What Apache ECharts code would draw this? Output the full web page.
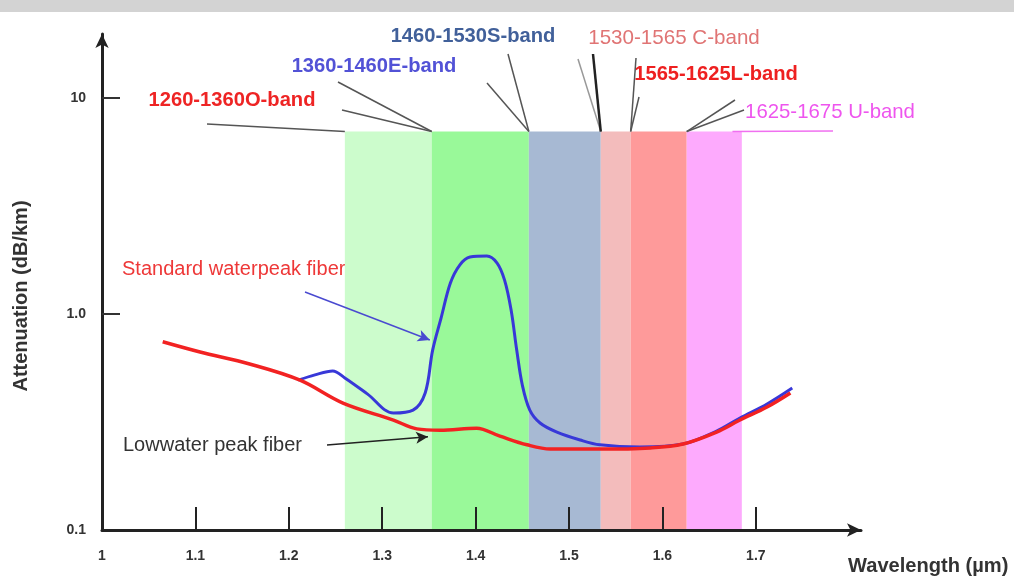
<!DOCTYPE html>
<html><head><meta charset="utf-8">
<script src="https://cdn.jsdelivr.net/npm/echarts@6/dist/echarts.min.js"></script>
<style>html,body{margin:0;padding:0;background:#fff}#c{width:1014px;height:579px}</style>
</head><body><div id="c"></div>
<script>
const xTicks = [1, 1.1, 1.2, 1.3, 1.4, 1.5, 1.6, 1.7];
const yTicks = [0.1, 1, 10];
const yTickLabels = ['0.1', '1.0', '10'];
const bandNames = ['1260-1360O-band', '1360-1460E-band', '1460-1530S-band', '1530-1565 C-band', '1565-1625L-band', '1625-1675 U-band'];
const bandStart = [1.26, 1.353, 1.457, 1.534, 1.566, 1.626];
const bandEnd = [1.353, 1.457, 1.534, 1.566, 1.626, 1.685];
const bandTop = 7.0;
const lowWL = [1.065, 1.105, 1.158, 1.212, 1.258, 1.312, 1.337, 1.362, 1.401, 1.426, 1.455, 1.480, 1.533, 1.587, 1.622, 1.658, 1.683, 1.712, 1.737];
const lowAtt = [0.744, 0.667, 0.587, 0.494, 0.387, 0.323, 0.294, 0.290, 0.296, 0.272, 0.248, 0.237, 0.237, 0.240, 0.250, 0.284, 0.323, 0.371, 0.431];
const stdWL = [1.210, 1.228, 1.247, 1.260, 1.284, 1.312, 1.333, 1.346, 1.354, 1.363, 1.373, 1.383, 1.394, 1.412, 1.423, 1.431, 1.438, 1.444, 1.450, 1.458, 1.469, 1.487, 1.512, 1.533, 1.576, 1.622, 1.658, 1.683, 1.712, 1.739];
const stdAtt = [0.494, 0.523, 0.545, 0.506, 0.427, 0.348, 0.359, 0.431, 0.681, 0.958, 1.392, 1.686, 1.836, 1.856, 1.722, 1.435, 1.043, 0.681, 0.469, 0.359, 0.313, 0.284, 0.261, 0.248, 0.242, 0.250, 0.287, 0.330, 0.383, 0.454];

const bandColors = ['#ccfccc', '#99f999', '#a7b9d3', '#f3bcbc', '#fe9a9a', '#fdaafd'];
const FONT = '"Liberation Sans","Arial",sans-serif';

const chart = echarts.init(document.getElementById('c'), null, {renderer: 'canvas'});

function zip(a, b) { return a.map((v, i) => [v, b[i]]); }

const leaderFrom = [
  [{x: 207, y: 124}, 0], [{x: 342, y: 110}, 1], [{x: 338, y: 82}, 1],
  [{x: 487, y: 83}, 2], [{x: 508, y: 54}, 2],
  [{x: 578, y: 59}, 3], [{x: 593, y: 54}, 3],
  [{x: 636, y: 58}, 4], [{x: 639, y: 97}, 4],
  [{x: 735, y: 100}, 5], [{x: 744, y: 110}, 5]
];
const leaderData = leaderFrom.map(([p, b], i) => [
  Object.assign({}, p, {lineStyle: {color: i === 6 ? '#222' : (i === 5 ? '#999' : '#555'), width: i === 6 ? 2.5 : 1.5, type: 'solid'}}),
  {coord: [bandStart[b], bandTop]}
]);
leaderData.push([{coord: [1.675, bandTop], lineStyle: {color: '#f070f0', width: 1.5, type: 'solid'}}, {x: 833, y: 131}]);

function label(text, x, y, color, weight, size, sx, align) {
  return {type: 'text', x: x, y: y, scaleX: sx, silent: true,
    style: {text: text, fill: color, font: weight + ' ' + size + 'px ' + FONT, textAlign: align || 'center', textVerticalAlign: 'middle'}};
}

const option = {
  animation: false,
  grid: {left: 102, top: 34, right: 153, bottom: 49},
  xAxis: {
    type: 'value', min: 1, max: 1.8126, z: 5,
    axisLine: {show: true, lineStyle: {color: '#222', width: 3}, symbol: ['none', 'arrow'], symbolSize: [10, 14]},
    axisTick: {show: true, inside: true, length: 23, lineStyle: {color: '#222', width: 2}, customValues: xTicks.slice(1)},
    axisLabel: {customValues: xTicks, formatter: v => String(Math.round(v * 10) / 10), margin: 19, color: '#333', fontFamily: FONT, fontWeight: 'bold', fontSize: 14},
    splitLine: {show: false}
  },
  yAxis: {
    type: 'log', logBase: 10, min: 0.1, max: 19.8, z: 5,
    axisLine: {show: true, lineStyle: {color: '#222', width: 3}, symbol: ['none', 'arrow'], symbolSize: [10, 14]},
    axisTick: {show: true, inside: true, length: 18, lineStyle: {color: '#333', width: 2}, customValues: [1, 10]},
    axisLabel: {
      customValues: yTicks, margin: 16, color: '#333', fontFamily: FONT, fontWeight: 'bold', fontSize: 14,
      formatter: v => { for (let i = 0; i < yTicks.length; i++) { if (Math.abs(Math.log10(v) - Math.log10(yTicks[i])) < 0.01) return yTickLabels[i]; } return ''; }
    },
    splitLine: {show: false}
  },
  series: [
    {
      name: 'bands', type: 'line', data: [], z: 1, silent: true,
      markArea: {silent: true, label: {show: false},
        data: bandStart.map((s, i) => [{name: bandNames[i], coord: [s, 0.1], itemStyle: {color: bandColors[i], opacity: 1}}, {coord: [bandEnd[i], bandTop]}])}
    },
    {
      name: 'Standard waterpeak fiber', type: 'line', data: zip(stdWL, stdAtt), smooth: 0.35, showSymbol: false, z: 3,
      lineStyle: {color: '#3838d8', width: 3}
    },
    {
      name: 'Lowwater peak fiber', type: 'line', data: zip(lowWL, lowAtt), smooth: 0.35, showSymbol: false, z: 4,
      lineStyle: {color: '#f22222', width: 3.5}
    },
    {
      name: 'leaders', type: 'line', data: [], z: 6, silent: true,
      markLine: {silent: true, symbol: ['none', 'none'], label: {show: false}, animation: false, data: leaderData}
    },
    {
      name: 'arrows', type: 'line', data: [], z: 6, silent: true,
      markLine: {silent: true, symbol: ['none', 'arrow'], symbolSize: [9, 12], label: {show: false}, animation: false,
        data: [
          [{x: 305, y: 292, lineStyle: {color: '#4a4ad0', width: 1.5, type: 'solid'}, itemStyle: {color: '#2a2ad0'}}, {coord: [1.351, 0.758]}],
          [{x: 327, y: 445, lineStyle: {color: '#222', width: 1.5, type: 'solid'}, itemStyle: {color: '#111'}}, {coord: [1.349, 0.270]}]
        ]}
    }
  ],
  graphic: [
    {type: 'rect', shape: {x: 0, y: 0, width: 1014, height: 12}, style: {fill: '#d3d3d3'}, silent: true},
    label(bandNames[0], 232, 100, '#ee2424', 'bold', 21, 0.96),
    label(bandNames[1], 374, 66, '#5252d6', 'bold', 21, 0.96),
    label(bandNames[2], 473, 36, '#41609a', 'bold', 21, 0.96),
    label(bandNames[3], 674, 38, '#e07474', 'normal', 21, 0.98),
    label(bandNames[4], 716, 74, '#ee2020', 'bold', 21, 0.96),
    label(bandNames[5], 830, 112, '#ee55ee', 'normal', 21, 0.97),
    label('Standard waterpeak fiber', 122, 269, '#ee3838', 'normal', 20, 1, 'left'),
    label('Lowwater peak fiber', 123, 445, '#333', 'normal', 20, 1, 'left'),
    label('Wavelength (\u00b5m)', 848, 566, '#333', 'bold', 20.5, 0.98, 'left'),
    {type: 'text', x: 21, y: 296, rotation: Math.PI / 2, silent: true,
      style: {text: 'Attenuation (dB/km)', fill: '#333', font: 'bold 20px ' + FONT, textAlign: 'center', textVerticalAlign: 'middle'}}
  ]
};
chart.setOption(option);
</script>
</body></html>
